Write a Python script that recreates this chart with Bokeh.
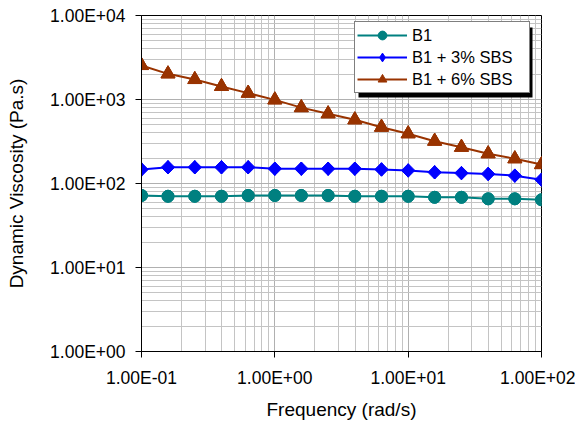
import math
from bokeh.plotting import figure
from bokeh.models import (FixedTicker, Legend, LegendItem, BoxAnnotation, Range1d)
from bokeh.embed import file_html
from bokeh.resources import INLINE

# ---- data ----
freq = [0.1, 0.158, 0.251, 0.398, 0.631, 1.0, 1.58, 2.51, 3.98, 6.31,
        10.0, 15.8, 25.1, 39.8, 63.1, 100.0]
b1 = [72, 70.5, 70.5, 70.5, 72, 72, 72, 72, 70.5, 70.5, 70.5, 68.5, 68.5, 65.7, 65.7, 64]
b1_3sbs = [147, 156, 156, 156, 156, 150, 150, 150, 150, 147, 143, 136, 133, 130, 124, 111]
b1_6sbs = [2540, 2020, 1730, 1430, 1190, 990, 800, 676, 573, 468, 391, 319, 270, 226, 197, 168]

x_ticks = [0.1, 1.0, 10.0, 100.0]
x_tick_labels = ["1.00E-01", "1.00E+00", "1.00E+01", "1.00E+02"]
y_ticks = [1.0, 10.0, 100.0, 1000.0, 10000.0]
y_tick_labels = ["1.00E+00", "1.00E+01", "1.00E+02", "1.00E+03", "1.00E+04"]

series_names = ["B1", "B1 + 3% SBS", "B1 + 6% SBS"]
colors = ["#008080", "#0000FF", "#993300"]
markers = ["circle", "square", "triangle"]
marker_sizes = [12, 9.5, 14]
marker_angles = [0, math.pi / 4, 0]
legend_markers = ["circle", "diamond", "triangle"]
legend_sizes = [12, 13.4, 14]

FONT = "Liberation Sans"

x_minor = [m * 10.0 ** e for e in range(-1, 2) for m in range(2, 10)]
y_minor = [m * 10.0 ** e for e in range(0, 4) for m in range(2, 10)]

p = figure(width=575, height=422, x_axis_type="log", y_axis_type="log",
           x_range=Range1d(0.1, 100), y_range=Range1d(1, 10000),
           output_backend="svg", toolbar_location=None,
           min_border_left=141, min_border_right=34, min_border_top=15,
           min_border_bottom=71)

p.background_fill_color = "white"
p.border_fill_color = "white"
p.outline_line_color = "black"
p.outline_line_width = 1

p.xaxis.ticker = FixedTicker(ticks=x_ticks, minor_ticks=x_minor)
p.yaxis.ticker = FixedTicker(ticks=y_ticks, minor_ticks=y_minor)
p.xaxis.major_label_overrides = dict(zip(x_ticks, x_tick_labels))
p.yaxis.major_label_overrides = dict(zip(y_ticks, y_tick_labels))

for ax in (p.xaxis[0], p.yaxis[0]):
    ax.axis_line_color = "black"
    ax.axis_line_width = 1
    ax.major_tick_line_color = "black"
    ax.major_tick_in = 0
    ax.major_tick_out = 6
    ax.minor_tick_line_color = None
    ax.major_label_text_font = FONT
    ax.major_label_text_font_size = "17.5px"
    ax.major_label_text_color = "black"
    ax.axis_label_text_font = FONT
    ax.axis_label_text_font_size = "19px"
    ax.axis_label_text_font_style = "normal"
    ax.axis_label_text_color = "black"

p.xaxis.axis_label = "Frequency (rad/s)"
p.yaxis.axis_label = "Dynamic Viscosity (Pa.s)"
p.xaxis.major_label_standoff = 10
p.xaxis.axis_label_standoff = 8
p.yaxis.major_label_standoff = 10
p.yaxis.axis_label_standoff = 20

for g in (p.xgrid[0], p.ygrid[0]):
    g.grid_line_color = "#b0b0b0"
    g.grid_line_width = 1
    g.minor_grid_line_color = "#c4c4c4"
    g.minor_grid_line_width = 1

items = []
for name, ys, c, m, s, a, lm, ls in zip(series_names, [b1, b1_3sbs, b1_6sbs], colors,
                                        markers, marker_sizes, marker_angles,
                                        legend_markers, legend_sizes):
    lr = p.line(freq, ys, line_color=c, line_width=2)
    # swatch renderer for the legend (hidden under the plotted markers)
    kr = p.scatter(freq, ys, marker=lm, size=ls, fill_color=c, line_color=c)
    sr = p.scatter(freq, ys, marker=m, size=s, angle=a,
                   fill_color=c, line_color=c)
    items.append(LegendItem(label=name, renderers=[lr, kr]))

# legend shadow
shadow = BoxAnnotation(left=217, right=391, bottom=254, top=324,
                       left_units="screen", right_units="screen",
                       bottom_units="screen", top_units="screen",
                       fill_color="black", fill_alpha=1.0, line_color=None)
p.add_layout(shadow)

legend = Legend(items=items, location=(213, 258), orientation="vertical",
                label_text_font=FONT, label_text_font_size="16.5px",
                label_text_color="black", glyph_width=50, glyph_height=22,
                label_height=22, label_width=115, label_standoff=5,
                spacing=0, padding=2, margin=0,
                border_line_color="black", border_line_width=1,
                background_fill_color="white", background_fill_alpha=1.0)
p.add_layout(legend)

open("out.html", "w").write(file_html(p, INLINE))
